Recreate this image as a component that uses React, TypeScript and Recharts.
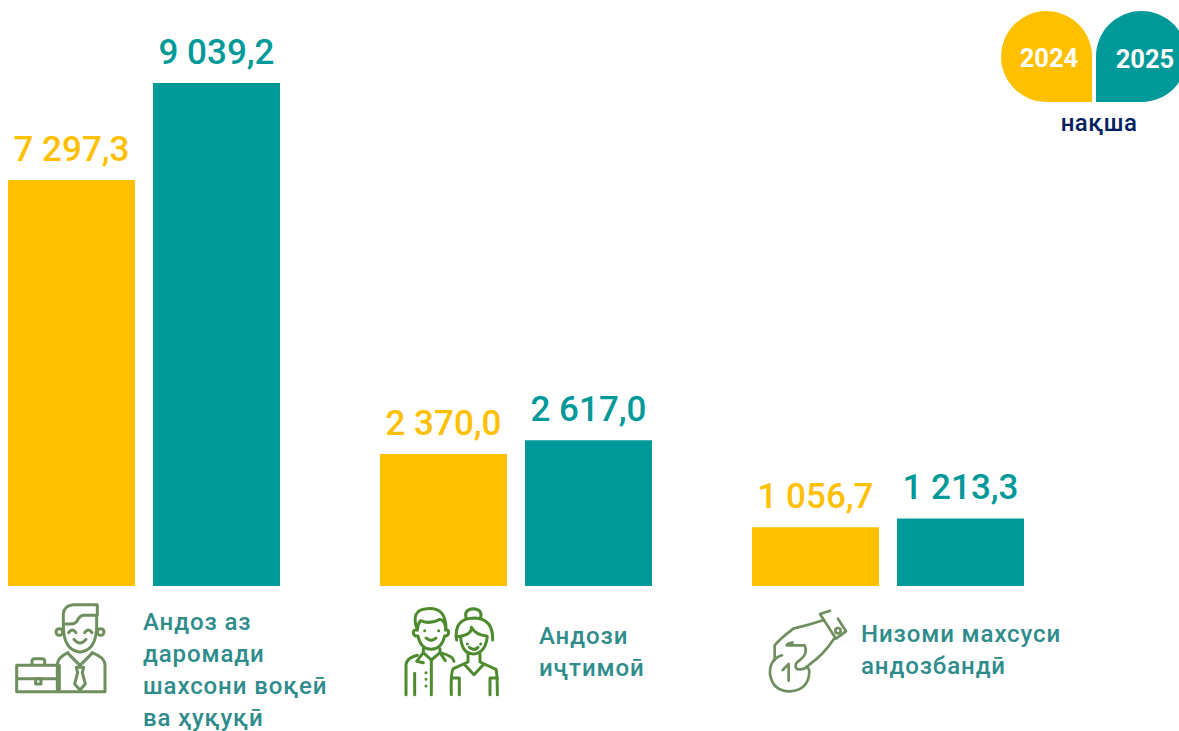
import React from "react";
import { BarChart, Bar, XAxis, YAxis, LabelList } from "recharts";

const categories = ["Андоз аз даромади шахсони воқеӣ ва ҳуқуқӣ", "Андози иҷтимоӣ", "Низоми махсуси андозбандӣ"];
const tickLines = [
  ["Андоз аз", "даромади", "шахсони воқеӣ", "ва ҳуқуқӣ"],
  ["Андози", "иҷтимоӣ"],
  ["Низоми махсуси", "андозбандӣ"],
];
const values2024 = [7297.3, 2370.0, 1056.7];
const values2025 = [9039.2, 2617.0, 1213.3];
const legendYears = ["2024", "2025"];
const legendNote = "нақша";

const YELLOW = "#FFC000";
const TEAL = "#009999";
const TEXT = "#2F8C8C";
const FONT = "Roboto, sans-serif";

const rows = categories.map((name, i) => ({ name, y2024: values2024[i], y2025: values2025[i] }));

const fmt = (v: number) => {
  const [a, b] = v.toFixed(1).split(".");
  return `${a.replace(/\B(?=(\d{3})+$)/g, " ")},${b}`;
};

function IconMan() {
  return (
    <g fill="none" stroke="#6F8F5F" strokeWidth={9} strokeLinecap="round" strokeLinejoin="round">
      <path d="M190 112 V72 Q192 46 220 44 H292 V76 H250 Q238 78 232 92 Q226 102 212 102 H190" />
      <path d="M190 112 Q192 182 240 186 Q288 182 290 112 V78" />
      <circle cx="178" cy="126" r="10" />
      <circle cx="302" cy="126" r="10" />
      <path d="M206 128 Q217 112 228 128 M254 128 Q265 112 276 128 M222 148 Q240 170 258 148" />
      <path d="M172 300 V222 Q174 202 204 188 M276 188 Q314 202 315 224 V305 H180" />
      <path d="M204 190 L240 226 L276 190" />
      <path d="M229 232 H251 L247 248 L256 282 L240 300 L224 282 L233 248 Z" />
      <path d="M50 226 H178 V305 H50 Z M50 266 H178 M96 226 V214 Q96 206 104 206 H126 Q134 206 134 214 V226" />
      <path d="M107 266 H123 V282 H107 Z" />
    </g>
  );
}

function IconCouple() {
  return (
    <g fill="none" stroke="#4E8A2E" strokeWidth={9} strokeLinecap="round" strokeLinejoin="round">
      <path d="M82 120 Q60 60 110 56 Q170 50 168 120 Q166 92 150 88 Q120 104 92 92 Q84 100 82 120" />
      <path d="M82 120 Q70 118 70 128 Q72 140 84 138 Q92 178 124 178 Q156 176 164 138 Q176 138 176 126 Q176 118 166 120" />
      <path d="M104 122 V122 M146 122 V122 M108 144 Q124 158 138 144" />
      <path d="M100 176 V188 L124 210 L150 188 V176 M100 188 L80 214 L100 218 M150 188 L166 212" />
      <path d="M48 314 V224 Q50 204 82 196 M150 188 Q190 198 192 214" />
      <path d="M124 210 V314 M74 250 V314" />
      <path d="M108 248 V248 M108 268 V268 M108 288 V288" />
      <path d="M228 82 Q222 58 250 56 Q278 58 272 82" />
      <path d="M200 150 Q190 84 254 84 Q310 86 308 150" />
      <path d="M198 140 Q246 136 244 112 Q258 136 290 138" />
      <path d="M212 140 Q214 190 250 192 Q286 190 292 140" />
      <path d="M234 192 V216 L190 236 Q182 246 184 314 M270 192 V216 L318 238 Q322 250 322 314 M222 222 L252 254 L282 222" />
      <path d="M208 264 V314 M300 264 V314 M184 264 H208 M300 264 H322" />
      <path d="M232 162 V162 M272 162 V162 M238 172 Q252 184 264 172" />
    </g>
  );
}

function IconHand() {
  return (
    <g fill="none" stroke="#6F8F5F" strokeWidth={8} strokeLinecap="round" strokeLinejoin="round">
      <path d="M240 62 L210 72 L258 146 L288 124 L264 86" />
      <circle cx="264" cy="122" r="8" />
      <path d="M222 90 Q180 104 130 116 Q86 150 74 166 L74 210" />
      <path d="M252 146 Q224 190 178 224 Q160 244 140 236 Q130 222 150 210 Q176 190 164 166 H110 Q112 160 128 158" />
      <path d="M96 196 Q58 208 60 252 Q68 304 120 304 Q176 300 178 246 Q178 236 170 230" />
      <path d="M98 240 L116 222 V272" />
    </g>
  );
}

const tickIcons = [
  { node: <IconMan />, dx: -144 },
  { node: <IconCouple />, dx: -126 },
  { node: <IconHand />, dx: -138 },
];
const tickText = [
  { dx: -1, base: 44, step: 32 },
  { dx: 23, base: 58, step: 32 },
  { dx: -27, base: 56, step: 32 },
];

function CategoryTick({ x, y, index }: any) {
  const icon = tickIcons[index];
  const t = tickText[index];
  return (
    <g transform={`translate(${x},${y})`}>
      <g transform={`translate(${icon.dx},4) scale(0.3333)`}>{icon.node}</g>
      {tickLines[index].map((line, i) => (
        <text key={line} x={t.dx} y={t.base + i * t.step} fill={TEXT} fontFamily={FONT} fontSize={24} letterSpacing={0.9} fontWeight={500}>
          {line}
        </text>
      ))}
    </g>
  );
}

function LegendBadges() {
  return (
    <svg width={189} height={145} style={{ position: "absolute", left: 990, top: 0 }}>
      <path d="M102 102 H57.5 A45.5 45.5 0 1 1 102 56.5 Z" fill={YELLOW} />
      <path d="M106 102 V56.5 A45.5 45.5 0 1 1 151.5 102 Z" fill={TEAL} />
      <text x={59} y={67} textAnchor="middle" fill="#fff" fontFamily={FONT} fontWeight={700} fontSize={25.5}>{legendYears[0]}</text>
      <text x={155} y={68} textAnchor="middle" fill="#fff" fontFamily={FONT} fontWeight={700} fontSize={25.5}>{legendYears[1]}</text>
      <text x={109} y={131} textAnchor="middle" fill="#002060" fontFamily={FONT} fontWeight={500} fontSize={24} letterSpacing={0.5}>{legendNote}</text>
    </svg>
  );
}

export default function App() {
  return (
    <div style={{ position: "absolute", left: 0, top: 0, width: 1179, height: 731, background: "#fff", overflow: "hidden" }}>
      <BarChart
        width={1179}
        height={731}
        data={rows}
        margin={{ top: 83, right: 105, bottom: 0, left: -42 }}
        barCategoryGap={50}
        barGap={18}
      >
        <YAxis hide domain={[0, 9039.2]} />
        <XAxis dataKey="name" axisLine={false} tickLine={false} tickSize={0} tickMargin={0} height={145} interval={0} tick={<CategoryTick />} />
        <Bar dataKey="y2024" fill={YELLOW} barSize={127} isAnimationActive={false}>
          <LabelList dataKey="y2024" position="top" offset={19} formatter={fmt as any} fill={YELLOW} fontFamily={FONT} fontWeight={500} fontSize={35} />
        </Bar>
        <Bar dataKey="y2025" fill={TEAL} barSize={127} isAnimationActive={false}>
          <LabelList dataKey="y2025" position="top" offset={19} formatter={fmt as any} fill={TEAL} fontFamily={FONT} fontWeight={500} fontSize={35} />
        </Bar>
      </BarChart>
      <LegendBadges />
    </div>
  );
}
